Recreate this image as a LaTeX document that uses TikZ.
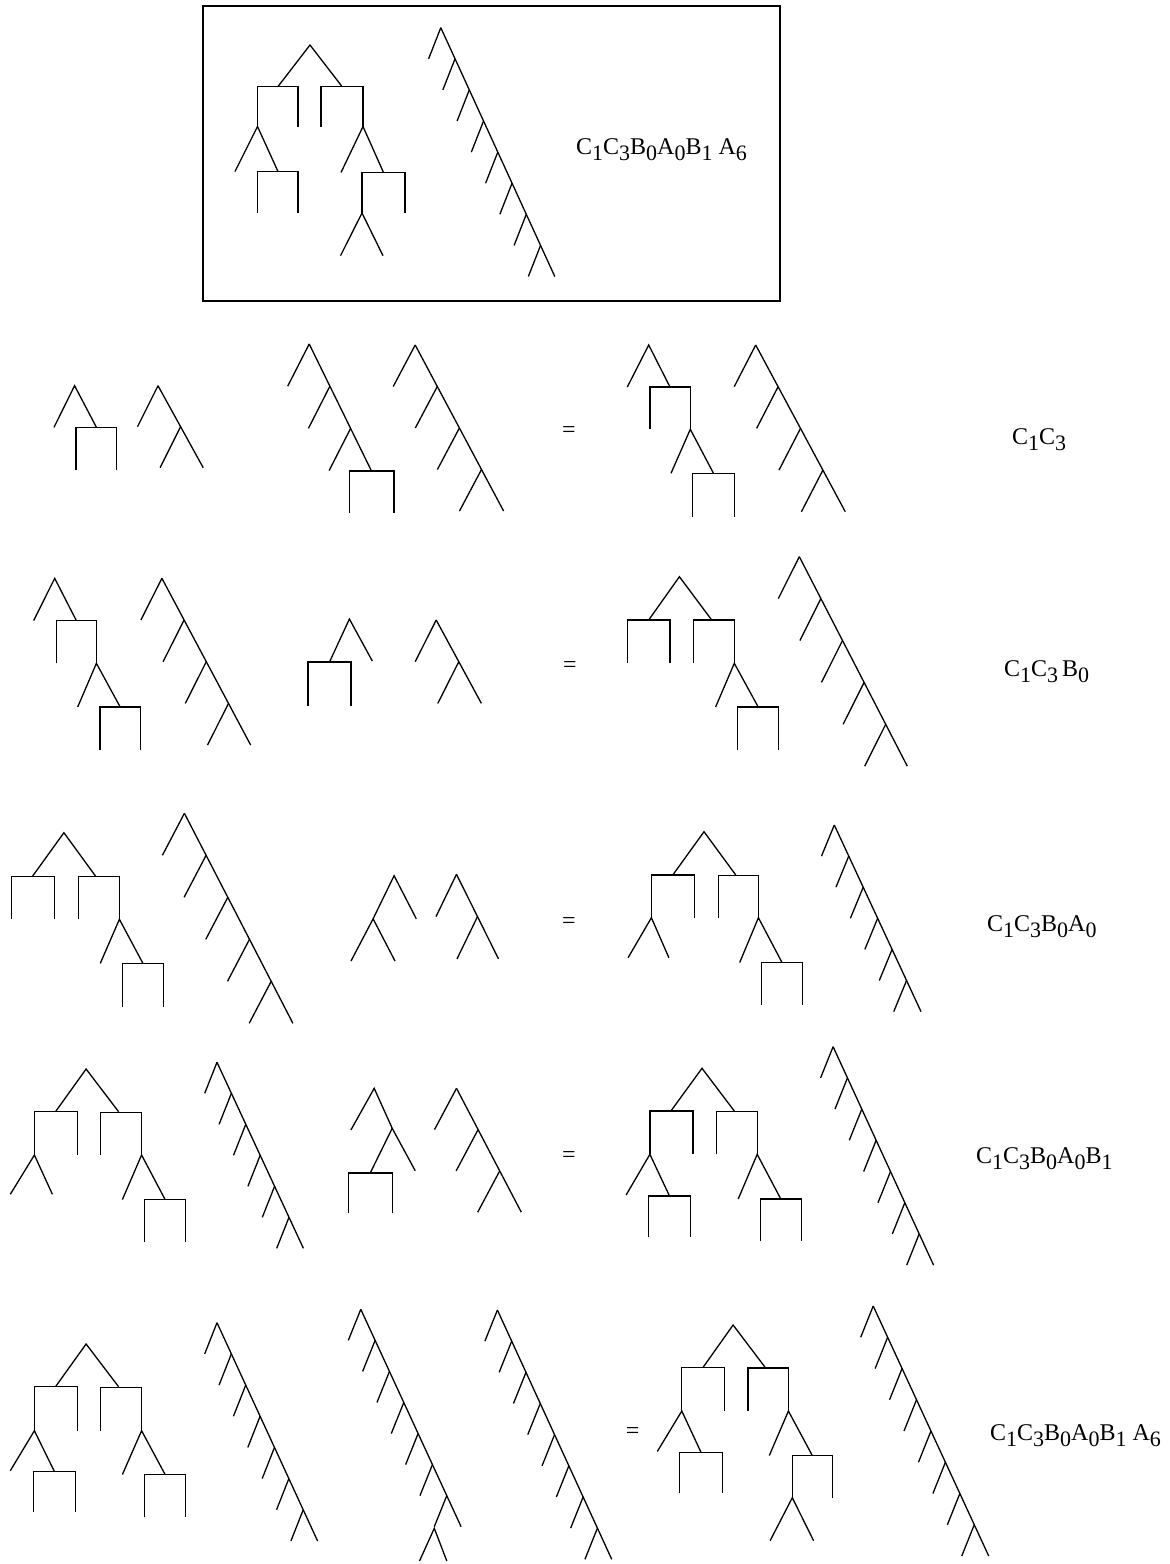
\documentclass[tikz,border=0pt]{standalone}
\usepackage{fontspec}
\setmainfont{Liberation Serif}

\tikzset{
  tree/.style={line width=1.3pt},
  word/.style={anchor=base west, inner sep=0pt, font=\fontsize{24}{24}\selectfont},
  equal/.style={inner sep=0pt, font=\fontsize{24}{24}\selectfont},
}
% lowered index digit
\newcommand{\lowd}[1]{\raisebox{-6pt}{\fontsize{22}{22}\selectfont #1}}
% spine: apex x, apex y, wedges, step dx, step dy, left leg dx
\newcommand{\spine}[6]{%
  \draw[tree] (#1,#2) -- ++({#3*#4},{#3*#5});
  \foreach \k in {1,...,#3}
    \draw[tree] ({#1+(\k-1)*#4},{#2+(\k-1)*#5}) -- ++(-#6,#5);
}

\begin{document}
\begin{tikzpicture}[x=1pt, y=-1pt]
    \useasboundingbox (0,0) rectangle (1170,1564);

    % Framed result
    \draw[tree] (203,6) rectangle (780,301);
    \draw[tree] (278,86.5) -- (310,45) -- (342,86.5);
    \draw[tree] (257.5,126.5) -- ++(0,-40) -- ++(40.5,0) -- ++(0,40);
    \draw[tree] (321,126.5) -- ++(0,-40) -- ++(42,0) -- ++(0,40);
    \draw[tree] (235,171.5) -- (257.5,126.5) -- (278,171.5);
    \draw[tree] (257.5,213) -- ++(0,-41.5) -- ++(40.5,0) -- ++(0,41.5);
    \draw[tree] (341,172.5) -- (363,126.5) -- (383.5,172.5);
    \draw[tree] (362,213) -- ++(0,-40.5) -- ++(43,0) -- ++(0,40.5);
    \draw[tree] (340.5,255.7) -- (362,213) -- (383,255.7);
    \spine{440.8}{27.7}{8}{14.25}{31.1}{12.2}
    \node[word] (lbl0) at (576,154) {C\lowd{1}C\lowd{3}B\lowd{0}A\lowd{0}B\lowd{1} A\lowd{6}};

    % Row 1
    \draw[tree] (54,427.3) -- (74.6,385.7) -- (96.4,427.3);
    \draw[tree] (76,470) -- ++(0,-42.7) -- ++(40.7,0) -- ++(0,42.7);
    \spine{158}{385.7}{2}{22.6}{41}{20.5}
    \spine{309.2}{344}{3}{20.7}{42.2}{21.5}
    \draw[tree] (349.5,513.3) -- ++(0,-42.3) -- ++(44.5,0) -- ++(0,42.3);
    \spine{415.2}{345}{4}{22.1}{41.5}{22}
    \node[equal] (eq1) at (569,432) {=};
    \draw[tree] (627.3,387) -- (648.7,345) -- (670,387);
    \draw[tree] (650,429.3) -- ++(0,-42.3) -- ++(40.3,0) -- ++(0,42.3);
    \draw[tree] (671,473.3) -- (690.3,429.3) -- (713.5,473.3);
    \draw[tree] (692.5,516.7) -- ++(0,-43.4) -- ++(42,0) -- ++(0,43.4);
    \spine{755.7}{345}{4}{22.4}{41.7}{21.5}
    \node[word] (lbl1) at (1012,444) {C\lowd{1}C\lowd{3}};

    % Row 2
    \draw[tree] (33.7,620.5) -- (54.7,578.3) -- (76.3,620.5);
    \draw[tree] (56.3,663.3) -- ++(0,-42.8) -- ++(40.1,0) -- ++(0,42.8);
    \draw[tree] (77.7,707) -- (96.4,663.3) -- (120.2,707);
    \draw[tree] (100,750) -- ++(0,-43) -- ++(40.4,0) -- ++(0,43);
    \spine{161.9}{578.3}{4}{22.2}{41.7}{21}
    \draw[tree] (329.5,662) -- (349.4,619) -- (372.3,661);
    \draw[tree] (308,705.7) -- ++(0,-43.7) -- ++(43,0) -- ++(0,43.7);
    \spine{436.2}{620}{2}{22.6}{41.7}{21}
    \node[equal] (eq2) at (570,667) {=};
    \draw[tree] (648.7,620) -- (679.4,576.7) -- (711.7,620);
    \draw[tree] (627.3,662.7) -- ++(0,-42.7) -- ++(42.8,0) -- ++(0,42.7);
    \draw[tree] (693.8,663.3) -- ++(0,-43.3) -- ++(40.5,0) -- ++(0,43.3);
    \draw[tree] (715.6,707) -- (734.3,663.3) -- (758.2,707);
    \draw[tree] (737.8,750) -- ++(0,-43) -- ++(40.8,0) -- ++(0,43);
    \spine{799.3}{556.7}{5}{21.6}{41.9}{21}
    \node[word] (lbl2) at (1004,676) {C\lowd{1}C\lowd{3}\,B\lowd{0}};

    % Row 3
    \draw[tree] (32.5,876.3) -- (63.9,832.7) -- (95.7,876.3);
    \draw[tree] (11.5,919) -- ++(0,-42.7) -- ++(43.2,0) -- ++(0,42.7);
    \draw[tree] (78.4,919.3) -- ++(0,-43) -- ++(41,0) -- ++(0,43);
    \draw[tree] (100.3,963.3) -- (119.4,919.3) -- (142.9,963.3);
    \draw[tree] (122.4,1006.7) -- ++(0,-43.4) -- ++(41,0) -- ++(0,43.4);
    \spine{184.4}{813.3}{5}{21.7}{42}{22}
    \draw[tree] (373.1,918.8) -- (394.1,875.7) -- (416.3,918.8);
    \draw[tree] (351,961) -- (373.1,918.8) -- (395,961);
    \spine{456.5}{874.3}{2}{21}{42.3}{20.5}
    \node[equal] (eq3) at (569,923) {=};
    \draw[tree] (672.8,875) -- (704,831.7) -- (735.8,875);
    \draw[tree] (651.4,917.7) -- ++(0,-42.7) -- ++(42.8,0) -- ++(0,42.7);
    \draw[tree] (718.3,917.7) -- ++(0,-42.2) -- ++(40.1,0) -- ++(0,42.2);
    \draw[tree] (628.1,957.7) -- (651.4,917.7) -- (668.9,957.7);
    \draw[tree] (739.7,962.5) -- (758.4,917.7) -- (782,962.5);
    \draw[tree] (761.5,1005) -- ++(0,-42.5) -- ++(40.9,0) -- ++(0,42.5);
    \spine{834.3}{825}{6}{14.45}{31.1}{12.8}
    \node[word] (lbl3) at (987,931) {C\lowd{1}C\lowd{3}B\lowd{0}A\lowd{0}};

    % Row 4
    \draw[tree] (55.5,1111.7) -- (86.1,1069) -- (118.6,1111.7);
    \draw[tree] (34.4,1155) -- ++(0,-43.3) -- ++(43.3,0) -- ++(0,43.3);
    \draw[tree] (100.6,1155) -- ++(0,-42.8) -- ++(41,0) -- ++(0,42.8);
    \draw[tree] (10.3,1194.3) -- (34.4,1155) -- (52.4,1194.3);
    \draw[tree] (122.4,1199.5) -- (141.6,1155) -- (165.1,1199.5);
    \draw[tree] (144.6,1241.7) -- ++(0,-42.2) -- ++(41,0) -- ++(0,42.2);
    \spine{217}{1062.3}{6}{14.4}{31}{12.3}
    \draw[tree] (350.9,1130) -- (374.2,1088.3) -- (392.2,1128.3) -- (415.2,1170.7);
    \draw[tree] (392.2,1128.3) -- (370.2,1173);
    \draw[tree] (348.2,1213.3) -- ++(0,-40.3) -- ++(44,0) -- ++(0,40.3);
    \spine{456.5}{1088.3}{3}{21.6}{41.3}{22}
    \node[equal] (eq4) at (569,1157) {=};
    \draw[tree] (670.9,1111) -- (702,1068.3) -- (734.3,1111);
    \draw[tree] (649.9,1154.3) -- ++(0,-43.3) -- ++(43.1,0) -- ++(0,43.3);
    \draw[tree] (716.8,1154.3) -- ++(0,-43) -- ++(40.4,0) -- ++(0,43);
    \draw[tree] (626.1,1195) -- (649.9,1154.3) -- (669.5,1196);
    \draw[tree] (648.7,1236.7) -- ++(0,-40.7) -- ++(41.6,0) -- ++(0,40.7);
    \draw[tree] (738.2,1199) -- (757.2,1154.3) -- (780.8,1199);
    \draw[tree] (760.3,1241) -- ++(0,-42) -- ++(40.9,0) -- ++(0,42);
    \spine{833.1}{1046.7}{7}{14.35}{31.2}{12.5}
    \node[word] (lbl4) at (976,1163) {C\lowd{1}C\lowd{3}B\lowd{0}A\lowd{0}B\lowd{1}};

    % Row 5
    \draw[tree] (55.5,1386.7) -- (86.1,1344) -- (118.6,1386.7);
    \draw[tree] (34.4,1430.7) -- ++(0,-44) -- ++(43.3,0) -- ++(0,44);
    \draw[tree] (100.6,1430.7) -- ++(0,-43.5) -- ++(41,0) -- ++(0,43.5);
    \draw[tree] (10.3,1470.7) -- (34.4,1430.7) -- (54.4,1471.5);
    \draw[tree] (33.3,1512.3) -- ++(0,-40.8) -- ++(42.1,0) -- ++(0,40.8);
    \draw[tree] (122.4,1474.5) -- (141.6,1430.7) -- (165.1,1474.5);
    \draw[tree] (144.6,1517.3) -- ++(0,-42.8) -- ++(41,0) -- ++(0,42.8);
    \spine{217}{1322.7}{7}{14.37}{31.18}{12.3}
    \spine{360.8}{1309.3}{7}{14.33}{31.06}{12.5}
    \draw[tree] (419.5,1561) -- (434.3,1528.3) -- (446.8,1561);
    \spine{497.4}{1310}{8}{14.29}{31.16}{12.5}
    \node[equal] (eq5) at (632.7,1433.3) {=};
    \draw[tree] (702.8,1367.7) -- (733.1,1325) -- (765.4,1367.7);
    \draw[tree] (681.8,1411) -- ++(0,-43.3) -- ++(42.8,0) -- ++(0,43.3);
    \draw[tree] (747.9,1411) -- ++(0,-43) -- ++(40.5,0) -- ++(0,43);
    \draw[tree] (657.3,1451.5) -- (681.8,1411) -- (701,1452.3);
    \draw[tree] (679.8,1492.7) -- ++(0,-40.4) -- ++(42.4,0) -- ++(0,40.4);
    \draw[tree] (769.3,1455.5) -- (788.4,1411) -- (812.3,1455.5);
    \draw[tree] (792.3,1497.7) -- ++(0,-42.2) -- ++(40,0) -- ++(0,42.2);
    \draw[tree] (770.1,1540.7) -- (792.3,1497.7) -- (813.6,1540.7);
    \spine{873.2}{1306}{8}{14.44}{31.25}{12.5}
    \node[word] (lbl5) at (990,1440) {C\lowd{1}C\lowd{3}B\lowd{0}A\lowd{0}B\lowd{1} A\lowd{6}};
\end{tikzpicture}
\end{document}
